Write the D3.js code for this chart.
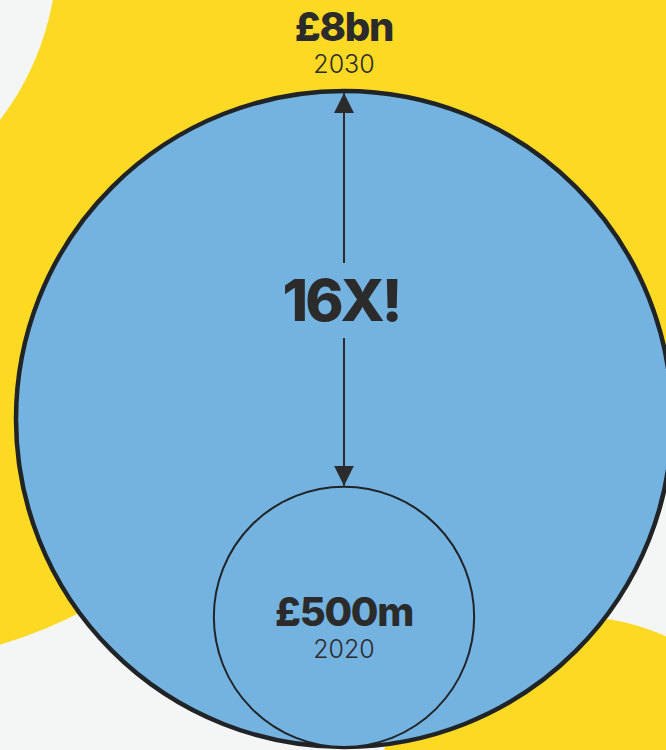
<!DOCTYPE html>
<head>
    <meta charset="utf-8">
    <script src="https://d3js.org/d3.v7.min.js"></script>
    <style>
        body { margin: 0; background: #f4f6f6; }
    </style>
</head>

<body>
    <div id="bubbles"></div>
</body>

<script>
    // data
    const years = ["2020", "2030"];
    const values = [500, 8000];            // £m
    const valueLabels = ["£500m", "£8bn"];
    const growthLabel = "16X!";

    const width = 666, height = 750;
    const cx = 344, baseY = 747;

    const svg = d3.select("#bubbles")
        .append("svg")
        .attr("width", width)
        .attr("height", height);

    // backdrop blobs
    svg.append("rect").attr("width", width).attr("height", height).attr("fill", "#f4f6f6");
    const blobs = [
        {x: -138, y: 185, r: 480, c: "#fcd922"},
        {x: 450, y: 150, r: 330, c: "#fcd922"},
        {x: -219, y: -48, r: 276, c: "#f4f6f6"},
        {x: 578, y: 825, r: 208, c: "#fcd922"}
    ];
    svg.selectAll("circle.blob")
        .data(blobs)
        .join("circle")
        .attr("class", "blob")
        .attr("cx", d => d.x).attr("cy", d => d.y).attr("r", d => d.r)
        .attr("fill", d => d.c);

    // radius scale
    const r = d3.scalePow().exponent(1 / 3)
        .domain([0, d3.max(values)])
        .range([0, 328]);

    const data = years.map((y, i) => ({year: y, value: values[i], label: valueLabels[i]}))
        .sort((a, b) => b.value - a.value);

    svg.selectAll("circle.bubble")
        .data(data)
        .join("circle")
        .attr("class", "bubble")
        .attr("cx", cx)
        .attr("cy", d => baseY - r(d.value))
        .attr("r", d => r(d.value))
        .attr("fill", "#74b2e0")
        .attr("stroke", "#202426")
        .attr("stroke-width", (d, i) => i === 0 ? 4.5 : 2);

    // arrow markers
    const defs = svg.append("defs");
    defs.append("marker")
        .attr("id", "head")
        .attr("viewBox", "0 0 10 10")
        .attr("refX", 10).attr("refY", 5)
        .attr("markerWidth", 10).attr("markerHeight", 10)
        .attr("markerUnits", "strokeWidth")
        .attr("orient", "auto")
        .append("path")
        .attr("d", "M0,0L10,5L0,10Z")
        .attr("fill", "#2b2b2b");

    const big = data[0], small = data[1];
    const topY = baseY - 2 * r(big.value) + 2;
    const botY = baseY - 2 * r(small.value) - 1;

    svg.append("line")
        .attr("x1", cx).attr("x2", cx)
        .attr("y1", 263).attr("y2", topY)
        .attr("stroke", "#2b2b2b").attr("stroke-width", 2)
        .attr("marker-end", "url(#head)");
    svg.append("line")
        .attr("x1", cx).attr("x2", cx)
        .attr("y1", 338).attr("y2", botY)
        .attr("stroke", "#2b2b2b").attr("stroke-width", 2)
        .attr("marker-end", "url(#head)");

    // labels
    const font = "Inter, 'Noto Sans', sans-serif";
    svg.append("text")
        .attr("x", 341).attr("y", 321)
        .attr("text-anchor", "middle")
        .style("font-family", font).style("font-weight", 800)
        .style("font-size", "58px").style("letter-spacing", "-3px")
        .attr("fill", "#2b2b2b")
        .text(growthLabel);

    const labelPos = {"2030": [41, 73], "2020": [626, 658]};
    data.forEach(d => {
        const [y1, y2] = labelPos[d.year];
        svg.append("text")
            .attr("x", cx).attr("y", y1)
            .attr("text-anchor", "middle")
            .style("font-family", font).style("font-weight", 800)
            .style("font-size", "40px").style("letter-spacing", "-1.3px")
            .attr("fill", "#2b2b2b")
            .text(d.label);
        svg.append("text")
            .attr("x", cx).attr("y", y2)
            .attr("text-anchor", "middle")
            .style("font-family", font).style("font-weight", 300)
            .style("font-size", "25px")
            .attr("fill", "#2b2b2b")
            .text(d.year);
    });
</script>
</html>
